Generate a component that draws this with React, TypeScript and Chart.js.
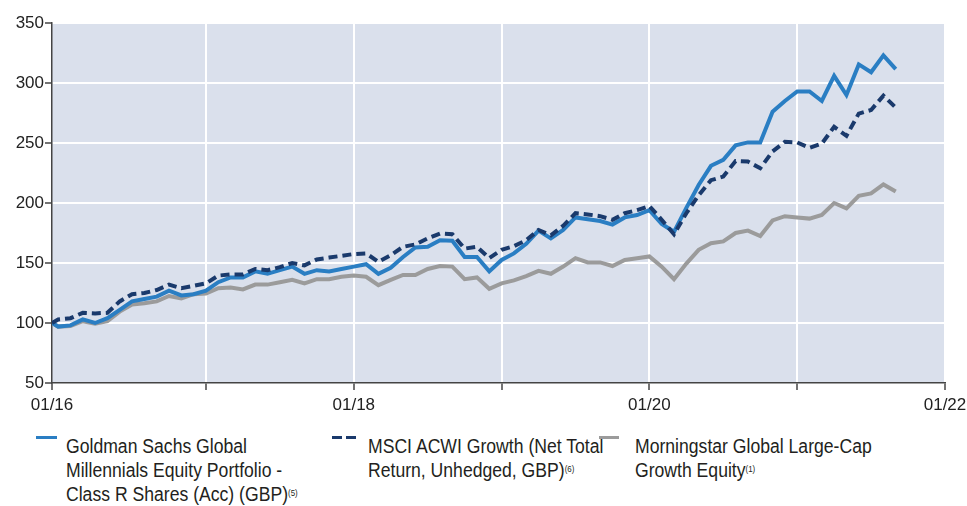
import React, { useEffect, useRef } from "react";
import { Chart, registerables } from "chart.js";

Chart.register(...registerables);

// x positions in months (first point is the inception value)
const months: number[] = [0.5, ...Array.from({ length: 69 }, (_, i) => i + 1)];

const goldman: number[] = [
  100, 97, 98, 103, 100, 104, 111, 118, 120, 122, 127, 123, 124, 127, 134, 138, 138, 143, 141, 144,
  147, 141, 144, 143, 145, 147, 149, 141, 146, 155, 163, 163.5, 169, 168.5, 155, 155, 143, 152.5, 158, 166,
  177, 170.5, 177.5, 188, 186.5, 185, 182, 188, 190, 194, 182.5, 176, 196, 215, 231, 236, 248, 250.5, 250.5, 276,
  285, 293, 293, 285, 306, 290, 315.5, 309, 323, 311.5,
];

const msci: number[] = [
  100, 103, 104, 108.5, 108, 108.5, 118, 124, 125, 127.5, 132, 129, 131, 133, 139.5, 140.5, 140.5, 145, 144, 146.5,
  150, 148, 153, 154.5, 156, 157.5, 158, 151, 156.5, 163.5, 165.5, 170.5, 174.5, 174, 162, 163.5, 154, 161, 164, 169,
  177.5, 173, 181, 191.5, 190.5, 189, 186, 191.5, 194, 197.5, 186, 174, 191.5, 206.5, 219, 222, 235, 234.5, 229, 243,
  251, 250.5, 246, 249.5, 263.5, 256, 274.5, 277.5, 289.5, 279.5,
];

const morningstar: number[] = [
  100, 97, 97.5, 101.5, 99.5, 101.5, 109.5, 115.5, 116.5, 118, 122.5, 120.5, 124, 124.5, 129, 129.5, 128, 132, 132, 134,
  136, 133, 136.5, 136.5, 138.5, 139.5, 138.5, 131.5, 136, 140, 140, 145, 147.5, 147, 136.5, 138, 128.5, 133, 135.5, 139,
  143.5, 141, 147, 154, 150.5, 150.5, 147.5, 152.5, 154, 155.5, 147, 136.5, 149.5, 161, 166.5, 168, 175, 177, 172.5, 185.5,
  189, 188, 187, 190, 200, 195.5, 206, 208, 215.5, 209.5,
];

const xTickValues: number[] = [0.5, 13, 25, 37, 49, 61, 73];
const xTickLabels: string[] = ["01/16", "", "01/18", "", "01/20", "", "01/22"];
const yTickValues: number[] = [50, 100, 150, 200, 250, 300, 350];

const seriesNames: string[] = [
  "Goldman Sachs Global Millennials Equity Portfolio - Class R Shares (Acc) (GBP)",
  "MSCI ACWI Growth (Net Total Return, Unhedged, GBP)",
  "Morningstar Global Large-Cap Growth Equity",
];

const BLUE = "#2a7ec3";
const NAVY = "#1a3a6c";
const GRAY = "#9b9b9b";
const AXIS = "#444444";
const FONT = "'Liberation Sans', Arial, sans-serif";

const CANVAS_W = 967;
const CANVAS_H = 425;

const bgPlugin = {
  id: "plotBg",
  beforeDraw(chart: any) {
    const { ctx, chartArea } = chart;
    if (!chartArea) return;
    ctx.save();
    ctx.fillStyle = "#dae0ec";
    ctx.fillRect(chartArea.left, chartArea.top, chartArea.right - chartArea.left, chartArea.bottom - chartArea.top);
    ctx.restore();
  },
};

function toPoints(vals: number[]) {
  return vals.map((v, i) => ({ x: months[i], y: v }));
}

export default function App() {
  const ref = useRef<HTMLCanvasElement | null>(null);

  useEffect(() => {
    if (!ref.current) return;
    const chart = new Chart(ref.current, {
      type: "line",
      data: {
        datasets: [
          {
            label: seriesNames[0],
            data: toPoints(goldman),
            borderColor: BLUE,
            borderWidth: 4,
            pointRadius: 0,
            tension: 0,
            order: 1,
          },
          {
            label: seriesNames[1],
            data: toPoints(msci),
            borderColor: NAVY,
            borderWidth: 4,
            borderDash: [9, 5],
            pointRadius: 0,
            tension: 0,
            order: 0,
          },
          {
            label: seriesNames[2],
            data: toPoints(morningstar),
            borderColor: GRAY,
            borderWidth: 4,
            pointRadius: 0,
            tension: 0,
            order: 2,
          },
        ],
      },
      options: {
        animation: false,
        responsive: false,
        maintainAspectRatio: false,
        layout: { padding: { top: 23, right: 22, left: 0, bottom: 0 } },
        plugins: {
          legend: { display: false },
          tooltip: { enabled: false },
        },
        scales: {
          x: {
            type: "linear",
            min: 0.5,
            max: 73,
            afterBuildTicks: (scale: any) => {
              scale.ticks = xTickValues.map((v) => ({ value: v }));
            },
            afterFit: (scale: any) => {
              scale.height = CANVAS_H - 383;
              scale.paddingLeft = 0;
              scale.paddingRight = 0;
            },
            ticks: {
              autoSkip: false,
              maxRotation: 0,
              padding: 5,
              color: "#222",
              font: { family: FONT, size: 17 },
              callback: (value: any) => {
                const idx = xTickValues.indexOf(Number(value));
                return idx >= 0 ? xTickLabels[idx] : "";
              },
            },
            grid: {
              color: (c: any) => (c.index === 0 ? "rgba(0,0,0,0)" : "#ffffff"),
              lineWidth: 2,
              tickColor: AXIS,
              tickLength: 7,
              tickWidth: 1.5,
            },
            border: { display: true, color: AXIS, width: 1.5 },
          },
          y: {
            min: 50,
            max: 350,
            afterBuildTicks: (scale: any) => {
              scale.ticks = yTickValues.map((v) => ({ value: v }));
            },
            afterFit: (scale: any) => {
              scale.width = 52;
              scale.paddingTop = 0;
              scale.paddingBottom = 0;
            },
            ticks: {
              padding: 1,
              color: "#222",
              font: { family: FONT, size: 17 },
            },
            grid: {
              color: (c: any) => (c.index === 0 ? "rgba(0,0,0,0)" : "#ffffff"),
              lineWidth: 2,
              tickColor: AXIS,
              tickLength: 7,
              tickWidth: 1.5,
            },
            border: { display: true, color: AXIS, width: 1.5 },
          },
        },
      },
      plugins: [bgPlugin],
    } as any);
    return () => chart.destroy();
  }, []);

  const textStyle: React.CSSProperties = {
    position: "absolute",
    fontFamily: FONT,
    fontSize: 20,
    lineHeight: "24px",
    color: "#231f20",
    whiteSpace: "nowrap",
    transform: "scaleX(0.88)",
    transformOrigin: "0 0",
  };
  const sup: React.CSSProperties = { fontSize: 9, verticalAlign: "top", position: "relative", top: -1 };

  return (
    <div style={{ position: "absolute", left: 0, top: 0, width: CANVAS_W, height: 506, background: "#fff" }}>
      <canvas ref={ref} width={CANVAS_W} height={CANVAS_H} style={{ display: "block", width: CANVAS_W, height: CANVAS_H }} />
      {/* legend item 1 */}
      <div style={{ position: "absolute", left: 36, top: 436, width: 21, height: 3, background: BLUE }} />
      <div style={{ ...textStyle, left: 66, top: 434 }}>
        Goldman Sachs Global
        <br />
        Millennials Equity Portfolio -
        <br />
        Class R Shares (Acc) (GBP)<span style={sup}>(5)</span>
      </div>
      {/* legend item 2 */}
      <div style={{ position: "absolute", left: 332, top: 436, width: 10, height: 3, background: NAVY }} />
      <div style={{ position: "absolute", left: 346, top: 436, width: 10, height: 3, background: NAVY }} />
      <div style={{ ...textStyle, left: 368, top: 434 }}>
        MSCI ACWI Growth (Net Total
        <br />
        Return, Unhedged, GBP)<span style={sup}>(6)</span>
      </div>
      {/* legend item 3 */}
      <div style={{ position: "absolute", left: 599, top: 436, width: 20, height: 3, background: GRAY }} />
      <div style={{ ...textStyle, left: 635, top: 434 }}>
        Morningstar Global Large-Cap
        <br />
        Growth Equity<span style={sup}>(1)</span>
      </div>
    </div>
  );
}
